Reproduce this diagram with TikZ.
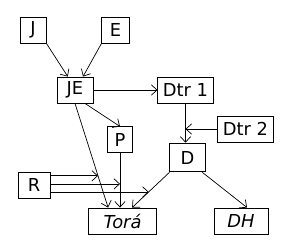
\documentclass[tikz,border=0pt]{standalone}
\usepackage{fontspec}
\setmainfont{DejaVu Sans}
\usetikzlibrary{arrows.meta}

\begin{document}
\begin{tikzpicture}[x=0.025cm,y=-0.025cm,>={Straight Barb[length=1.4mm,width=2.6mm]},
  box/.style={draw,line width=0.6pt,inner sep=0pt,minimum height=0.65cm,
    font=\fontsize{12.7}{15}\selectfont},
  every path/.style={line width=0.5pt}]
\useasboundingbox (0,0) rectangle (300,250);
\node[box,minimum width=0.65cm] (J) at (33,30) {J};
\node[box,minimum width=0.68cm] (E) at (115.5,30) {E};
\node[box,minimum width=0.9cm] (JE) at (75,90) {JE};
\node[box,minimum width=1.38cm] (dtr1) at (185.5,90) {Dtr 1};
\node[box,minimum width=1.38cm] (dtr2) at (245.5,129) {Dtr 2};
\node[box,minimum width=0.88cm,minimum height=0.72cm] (D) at (187.5,157.5) {D};
\node[box,minimum width=0.63cm,minimum height=0.63cm] (P) at (120,139.5) {P};
\node[box,minimum width=0.8cm] (R) at (34,185) {R};
\node[box,minimum width=1.72cm] (tora) at (122.5,221) {\itshape Torá};
\node[box,minimum width=1.35cm] (DH) at (241,221) {\itshape DH};
% edges
\draw[->] (J.south east) -- ([xshift=-0.18cm]JE.north);
\draw[->] (E.south west) -- ([xshift=0.2cm]JE.north);
\draw[->] (JE.east) -- (dtr1.west);
\draw[->] ([xshift=0.25cm]JE.south) -- (P.north);
\draw[->] (JE.south) -- ([xshift=-0.36cm]tora.north) coordinate[pos=0.695] (rj);
\draw[->] (P.south) -- (P.south |- tora.north) coordinate[pos=0.57] (rp);
\draw[->] (D.south west) -- ([xshift=0.24cm]tora.north) coordinate[pos=0.556] (rd);
\draw[->] ([xshift=-0.08cm]D.south east) -- ([xshift=0.15cm]DH.north);
\draw[->] (dtr1.south) -- (dtr1.south |- D.north);
\draw[->] (dtr2.west) -- (dtr1.south |- dtr2.west);
% R acts on the edges
\draw[->] (R.east |- rj) -- (rj);
\draw[->] (R.east |- rp) -- (rp);
\draw[->] (R.east |- rd) -- (rd);
\end{tikzpicture}
\end{document}
